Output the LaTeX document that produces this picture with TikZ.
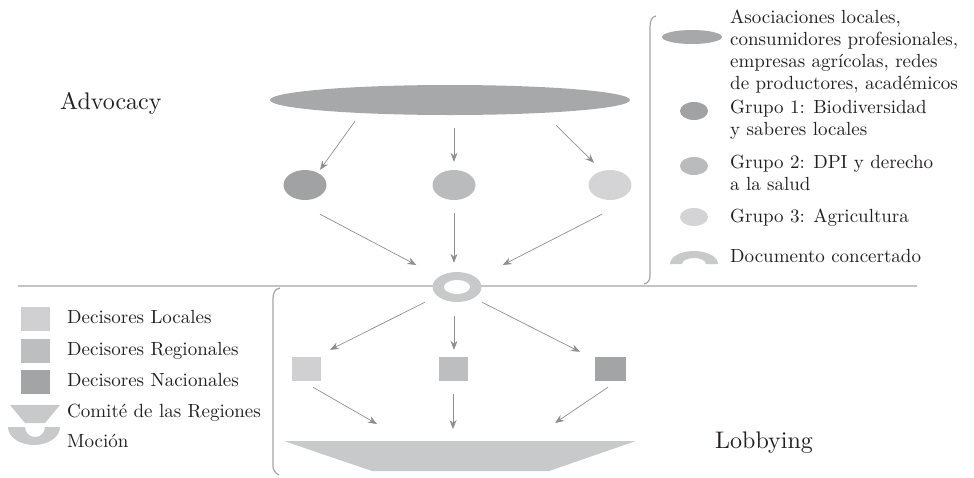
\documentclass[tikz,border=0pt]{standalone}
\usepackage{fontspec}
\setmainfont{lmroman10-regular}[Extension=.otf]
\usepackage{xcolor}
\usetikzlibrary{arrows.meta,shapes.geometric,calc}
\definecolor{gA}{HTML}{A7A8AA}
\definecolor{gB}{HTML}{A1A2A4}
\definecolor{gC}{HTML}{BABBBD}
\definecolor{gD}{HTML}{D4D4D6}
\definecolor{ringgray}{HTML}{C8C9CB}
\definecolor{dA}{HTML}{D0D0D2}
\definecolor{dB}{HTML}{BDBEC0}
\definecolor{dC}{HTML}{A3A4A6}
\definecolor{arrgray}{HTML}{8E8E90}
\definecolor{linegray}{HTML}{C4C4C6}
\definecolor{brkgray}{HTML}{A5A5A8}
\definecolor{ink}{HTML}{231F20}
\begin{document}
\begin{tikzpicture}[x=1pt,y=-1pt,
  arr/.style={-{Stealth[length=9pt,width=7pt]},draw=arrgray,line width=0.7pt},
  blob/.style={ellipse,inner sep=0,draw=none},
  sq/.style={rectangle,inner sep=0,minimum height=24pt},
  txt/.style={font=\fontsize{19}{21.7}\selectfont,text=ink,inner sep=0,align=left,anchor=base west},
  bigtxt/.style={font=\fontsize{24}{28}\selectfont,text=ink,inner sep=0,anchor=base west}]
\useasboundingbox(0,0)rectangle(974,477);
\draw[line width=1.6pt,draw=linegray](18,286)--(917,286);
\draw[line width=1.2pt,draw=brkgray](656,16)..controls(651,17)and(650,21)..(650,28)--(650,275)..controls(650,281)and(648,283)..(644,284);
\draw[line width=1.2pt,draw=brkgray](280,288)..controls(275,289)and(273,292)..(273,300)--(273,466)..controls(273,470)and(275,473)..(279,475);
\node[bigtxt](adv)at(60,109){Advocacy};
\node[bigtxt](lob)at(715,448){Lobbying};
\node[blob,fill=gA,minimum width=360pt,minimum height=30pt](top)at(450,100){};
\node[blob,fill=gB,minimum width=43pt,minimum height=30pt](g1)at(305,185){};
\node[blob,fill=gC,minimum width=43pt,minimum height=30pt](g2)at(454,185){};
\node[blob,fill=gD,minimum width=43pt,minimum height=30pt](g3)at(610,185){};
\node[blob,fill=ringgray,minimum width=49pt,minimum height=30pt](doc)at(457,287){};
\node[blob,fill=white,minimum width=26pt,minimum height=14pt](hole)at(doc){};
\node[sq,fill=dA,minimum width=29pt](d1)at(306,369){};
\node[sq,fill=dB,minimum width=29pt](d2)at(453,369){};
\node[sq,fill=dC,minimum width=31pt](d3)at(610,369){};
\fill[ringgray](284,441)--(636,441)--(549,471)--(372,471)--cycle;
\coordinate(com)at(460,456);
\draw[arr]($(top.south)+(-95,6)$)--($(g1.north)+(15,0)$);
\draw[arr]($(top.south)+(4,13)$)--($(g2.north)+(0,-8)$);
\draw[arr]($(top.south)+(106,10)$)--($(g3.north)+(-16,-7)$);
\draw[arr]($(g1.south)+(15,14)$)--($(doc.west)+(-16,-22)$);
\draw[arr]($(g2.south)+(0,13)$)--($(doc.north)+(-3,-9)$);
\draw[arr]($(g3.south)+(-8,14)$)--($(doc.east)+(21,-22)$);
\draw[arr]($(doc.south)+(-32,0)$)--($(d1.north)+(24,-7)$);
\draw[arr]($(doc.south)+(-3,14)$)--($(d2.north)+(1,-7)$);
\draw[arr]($(doc.south)+(25,0)$)--($(d3.north)+(-30,-5)$);
\draw[arr]($(d1.south)+(7,6)$)--($(com)+(-83,-32)$);
\draw[arr]($(d2.south)+(0,13)$)--($(com)+(-7,-27)$);
\draw[arr]($(d3.south)+(-2,6)$)--($(com)+(95,-33)$);
\node[blob,fill=gA,minimum width=60pt,minimum height=14pt](l0)at(692,37){};
\node[blob,fill=gB,minimum width=28pt,minimum height=18pt](l1)at(694,111){};
\node[blob,fill=gC,minimum width=28pt,minimum height=18pt](l2)at(694,166){};
\node[blob,fill=gD,minimum width=28pt,minimum height=18pt](l3)at(694,217){};
\fill[ringgray](670,264)arc[start angle=180,end angle=360,x radius=24,y radius=13]--(706,264)arc[start angle=0,end angle=-180,x radius=12,y radius=6]--cycle;
\node[txt](t0)at(730,89){Asociaciones locales,\\consumidores profesionales,\\empresas agrícolas, redes\\de productores, académicos};
\node[txt](t1)at(730,135){Grupo 1: Biodiversidad\\y saberes locales};
\node[txt](t2)at(730,190){Grupo 2: DPI y derecho\\a la salud};
\node[txt](t3)at(730,222){Grupo 3: Agricultura};
\node[txt](t4)at(730,262){Documento concertado};
\node[sq,fill=dA,minimum width=29pt](k1)at(35,319){};
\node[sq,fill=dB,minimum width=29pt](k2)at(35,351){};
\node[sq,fill=dC,minimum width=29pt](k3)at(35,382){};
\fill[ringgray](10,405)--(60,405)--(45,423)--(25,423)--cycle;
\fill[ringgray](8,427)arc[start angle=180,end angle=0,x radius=26,y radius=18]--(45,427)arc[start angle=0,end angle=180,x radius=10,y radius=10]--cycle;
\node[txt](s1)at(67,323){Decisores Locales};
\node[txt](s2)at(67,355){Decisores Regionales};
\node[txt](s3)at(67,386){Decisores Nacionales};
\node[txt](s4)at(67,417){Comité de las Regiones};
\node[txt](s5)at(67,447){Moción};
\end{tikzpicture}
\end{document}
